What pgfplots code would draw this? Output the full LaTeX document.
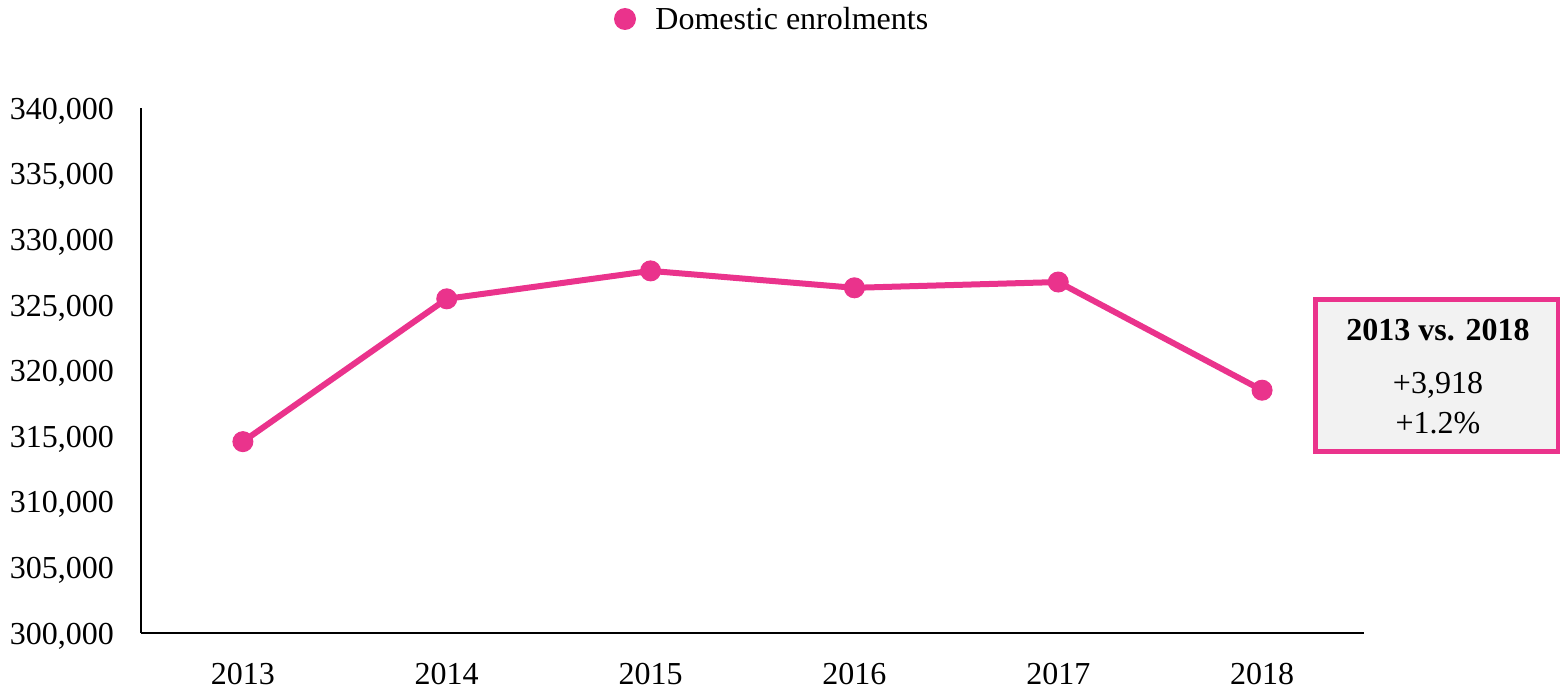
\documentclass[border=0pt]{standalone}
\usepackage{pgfplots}
\pgfplotsset{compat=1.18}
\usepackage{fontspec}
\setmainfont{Liberation Serif}
\definecolor{enrolpink}{RGB}{234,51,140}
\definecolor{boxgray}{RGB}{242,242,242}

\begin{document}
\begin{tikzpicture}
\useasboundingbox (-70.5pt,-29.5pt) rectangle (709.5pt,316.5pt);
\begin{axis}[
    at={(0,0)}, anchor=south west,
    scale only axis,
    width=611.5pt, height=262.5pt,
    xmin=-0.5, xmax=5.5,
    ymin=300000, ymax=340000,
    xtick={0,1,2,3,4,5},
    xticklabels={2013,2014,2015,2016,2017,2018},
    ytick={300000,305000,310000,315000,320000,325000,330000,335000,340000},
    scaled y ticks=false,
    y tick label style={/pgf/number format/fixed, /pgf/number format/1000 sep={,}, xshift=-10pt, yshift=-1.5pt},
    /pgf/number format/assume math mode=true,
    tick label style={font=\fontsize{16}{19}\selectfont},
    major tick length=0pt,
    axis x line=bottom, axis y line=left,
    axis line style={line width=1pt, -},
    x tick label style={yshift=-11.5pt},
    clip=false,
]
\addplot[enrolpink, line width=3pt, mark=*, mark size=5pt,
         mark options={fill=enrolpink, draw=enrolpink, line width=0.5pt}]
  coordinates {
    (0,314580) (1,325460) (2,327590) (3,326300) (4,326740) (5,318498)
  };
\end{axis}
% legend key
\fill[enrolpink] (242pt,307pt) circle (5.5pt);
\node[anchor=west, font=\fontsize{16}{19}\selectfont, inner sep=0pt] at (257pt,307pt) {Domestic enrolments};
% summary box
\draw[enrolpink, line width=2.5pt, fill=boxgray] (587pt,91pt) rectangle (708.5pt,167pt);
\node[font=\fontsize{16}{19}\selectfont\bfseries] at (648.5pt,151.5pt) {2013 vs. 2018};
\node[font=\fontsize{16}{19}\selectfont] at (648.5pt,124pt) {+3,918};
\node[font=\fontsize{16}{19}\selectfont] at (648.5pt,105pt) {+1.2\%};
\end{tikzpicture}
\end{document}
